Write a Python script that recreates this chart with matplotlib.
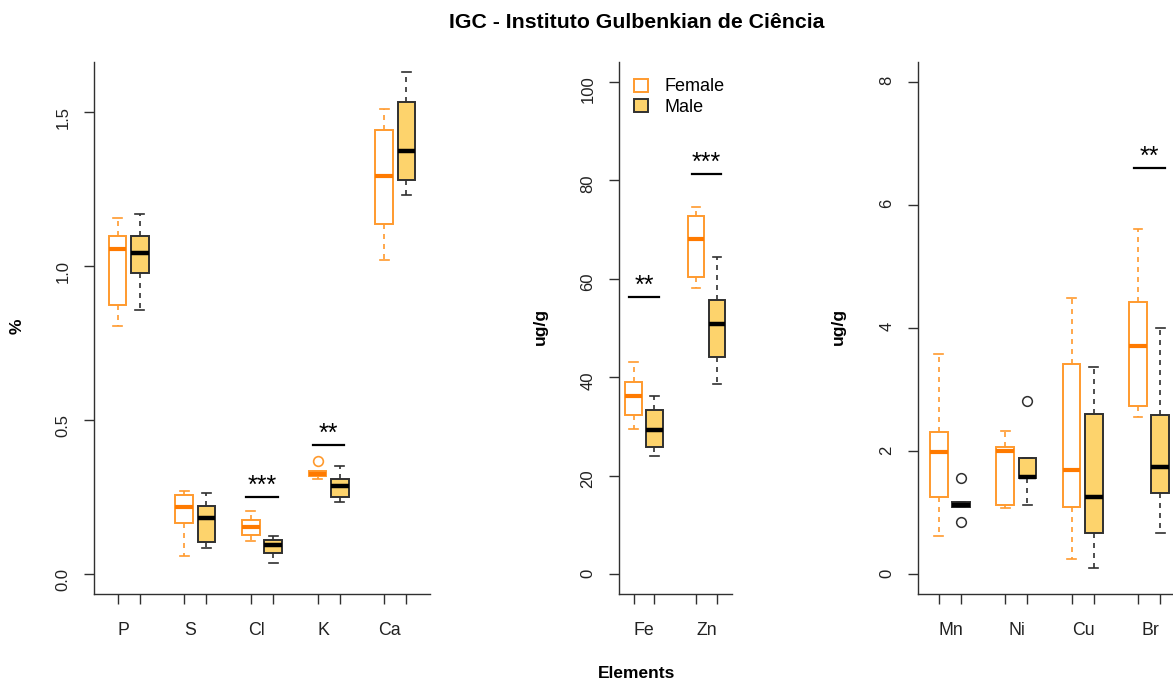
import matplotlib.pyplot as plt
from matplotlib.patches import Patch

plt.rcParams['font.family'] = ['Liberation Sans', 'DejaVu Sans']

# panel 1 - major elements (%)
el1 = ['P', 'S', 'Cl', 'K', 'Ca']
f1_lo = [0.807, 0.058, 0.108, 0.311, 1.021]
f1_q1 = [0.875, 0.165, 0.129, 0.319, 1.138]
f1_med = [1.056, 0.217, 0.154, 0.327, 1.294]
f1_q3 = [1.098, 0.258, 0.175, 0.335, 1.443]
f1_hi = [1.158, 0.270, 0.207, 0.337, 1.512]
f1_out = [[], [], [], [0.368], []]
m1_lo = [0.860, 0.084, 0.037, 0.235, 1.232]
m1_q1 = [0.980, 0.104, 0.068, 0.252, 1.281]
m1_med = [1.043, 0.184, 0.094, 0.287, 1.374]
m1_q3 = [1.098, 0.221, 0.111, 0.309, 1.533]
m1_hi = [1.170, 0.265, 0.124, 0.352, 1.630]
m1_out = [[], [], [], [], []]
sig1_idx = [2, 3]
sig1_txt = ['***', '**']
sig1_y = [0.251, 0.421]

# panel 2 - Fe, Zn (ug/g)
el2 = ['Fe', 'Zn']
f2_lo = [29.5, 58.2]
f2_q1 = [32.3, 60.4]
f2_med = [36.2, 68.0]
f2_q3 = [39.0, 72.8]
f2_hi = [43.0, 74.5]
f2_out = [[], []]
m2_lo = [24.1, 38.6]
m2_q1 = [25.8, 44.2]
m2_med = [29.2, 50.9]
m2_q3 = [33.4, 55.6]
m2_hi = [36.1, 64.5]
m2_out = [[], []]
sig2_idx = [0, 1]
sig2_txt = ['**', '***']
sig2_y = [56.3, 81.3]

# panel 3 - trace elements (ug/g)
el3 = ['Mn', 'Ni', 'Cu', 'Br']
f3_lo = [0.63, 1.08, 0.25, 2.56]
f3_q1 = [1.26, 1.12, 1.10, 2.74]
f3_med = [1.98, 2.01, 1.70, 3.70]
f3_q3 = [2.31, 2.07, 3.42, 4.43]
f3_hi = [3.58, 2.33, 4.48, 5.60]
f3_out = [[], [], [], []]
m3_lo = [1.09, 1.12, 0.11, 0.67]
m3_q1 = [1.09, 1.56, 0.67, 1.32]
m3_med = [1.13, 1.58, 1.25, 1.75]
m3_q3 = [1.18, 1.89, 2.61, 2.58]
m3_hi = [1.18, 1.89, 3.37, 4.00]
m3_out = [[1.57, 0.85], [2.81], [], []]
sig3_idx = [3]
sig3_txt = ['**']
sig3_y = [6.60]

ORANGE = '#ff9a2e'
ORANGE_MED = '#ff7a00'
GOLD = '#fdd36c'
DARK = '#303030'
TXT = '#222222'


def make_stats(lo, q1, med, q3, hi, out):
    return [dict(whislo=a, q1=b, med=c, q3=d, whishi=e, fliers=o)
            for a, b, c, d, e, o in zip(lo, q1, med, q3, hi, out)]


def draw_panel(ax, names, fem, mal, ymax, yticks, ylabels, sig_idx, sig_txt, sig_y, lab_off):
    n = len(names)
    pos_f = [1 + 3 * i for i in range(n)]
    pos_m = [2 + 3 * i for i in range(n)]
    ax.bxp(fem, positions=pos_f, widths=0.8, patch_artist=True, capwidths=0.4,
           manage_ticks=False,
           boxprops=dict(facecolor='white', edgecolor=ORANGE, linewidth=1.4),
           whiskerprops=dict(color=ORANGE, linestyle=(0, (3, 3)), linewidth=1.2),
           capprops=dict(color=ORANGE, linewidth=1.2),
           medianprops=dict(color=ORANGE_MED, linewidth=3),
           flierprops=dict(marker='o', markerfacecolor='none', markeredgecolor=ORANGE,
                           markersize=7, markeredgewidth=1.2))
    ax.bxp(mal, positions=pos_m, widths=0.8, patch_artist=True, capwidths=0.4,
           manage_ticks=False,
           boxprops=dict(facecolor=GOLD, edgecolor=DARK, linewidth=1.4),
           whiskerprops=dict(color=DARK, linestyle=(0, (3, 3)), linewidth=1.2),
           capprops=dict(color=DARK, linewidth=1.2),
           medianprops=dict(color='black', linewidth=3.2),
           flierprops=dict(marker='o', markerfacecolor='none', markeredgecolor=DARK,
                           markersize=7, markeredgewidth=1.1))
    # significance bars
    for i, t, y in zip(sig_idx, sig_txt, sig_y):
        c = 1.5 + 3 * i
        ax.plot([c - 0.7, c + 0.7], [y, y], color='black', lw=1.6)
        ax.annotate(t, (c, y), xytext=(0, 3), textcoords='offset points',
                    ha='center', va='baseline', fontsize=18)
    xr = 3 * n - 1
    ax.set_xlim(0.5 - 0.04 * xr, 3 * n - 0.5 + 0.04 * xr)
    ax.set_ylim(-0.04 * ymax, ymax * 1.04)
    ax.set_yticks(yticks)
    ax.set_yticklabels(ylabels)
    ax.set_xticks(sorted(pos_f + pos_m))
    ax.set_xticklabels([])
    ax.set_xticks([p + lab_off for p in pos_f], minor=True)
    ax.set_xticklabels(names, minor=True)
    ax.tick_params(axis='x', which='major', length=7, width=1, color=DARK)
    ax.tick_params(axis='x', which='minor', length=0, pad=20, labelsize=12.8,
                   labelcolor=TXT)
    ax.tick_params(axis='y', length=7, width=1, color=DARK, labelsize=12,
                   labelrotation=90, pad=10, labelcolor=TXT)
    for s in ['top', 'right']:
        ax.spines[s].set_visible(False)
    for s in ['left', 'bottom']:
        ax.spines[s].set_color(DARK)
        ax.spines[s].set_linewidth(1)


fig = plt.figure(figsize=(11.73, 6.82), dpi=100)
W, H = 1173, 682
bot = (H - 594) / H
hgt = (594 - 62) / H
ax1 = fig.add_axes([94 / W, bot, 336 / W, hgt])
ax2 = fig.add_axes([619 / W, bot, 112.5 / W, hgt])
ax3 = fig.add_axes([918 / W, bot, 263 / W, hgt])

draw_panel(ax1, el1,
           make_stats(f1_lo, f1_q1, f1_med, f1_q3, f1_hi, f1_out),
           make_stats(m1_lo, m1_q1, m1_med, m1_q3, m1_hi, m1_out),
           1.6, [0, 0.5, 1.0, 1.5], ['0.0', '0.5', '1.0', '1.5'],
           sig1_idx, sig1_txt, sig1_y, 0.25)
draw_panel(ax2, el2,
           make_stats(f2_lo, f2_q1, f2_med, f2_q3, f2_hi, f2_out),
           make_stats(m2_lo, m2_q1, m2_med, m2_q3, m2_hi, m2_out),
           100, [0, 20, 40, 60, 80, 100], ['0', '20', '40', '60', '80', '100'],
           sig2_idx, sig2_txt, sig2_y, 0.5)
draw_panel(ax3, el3,
           make_stats(f3_lo, f3_q1, f3_med, f3_q3, f3_hi, f3_out),
           make_stats(m3_lo, m3_q1, m3_med, m3_q3, m3_hi, m3_out),
           8, [0, 2, 4, 6, 8], ['0', '2', '4', '6', '8'],
           sig3_idx, sig3_txt, sig3_y, 0.55)

# legend
handles = [Patch(facecolor='white', edgecolor=ORANGE, linewidth=1.4, label='Female'),
           Patch(facecolor=GOLD, edgecolor=DARK, linewidth=1.4, label='Male')]
ax2.legend(handles=handles, loc='upper left', bbox_to_anchor=(0.136, 0.969),
           frameon=False, fontsize=13, handlelength=0.75, handleheight=0.75,
           handletextpad=0.9, labelspacing=0.18, borderaxespad=0, borderpad=0)

fig.text(637 / W, 1 - 22 / H, 'IGC - Instituto Gulbenkian de Ciência',
         ha='center', va='center', fontsize=15.3, fontweight='bold')
fig.text(637 / W, 1 - 674 / H, 'Elements', ha='center', va='center',
         fontsize=12.5, fontweight='bold')
fig.text(17 / W, 1 - 326 / H, '%', ha='center', va='center', rotation=90,
         fontsize=12.5, fontweight='bold')
fig.text(540 / W, 1 - 326 / H, 'ug/g', ha='center', va='center', rotation=90,
         fontsize=12.5, fontweight='bold')
fig.text(838 / W, 1 - 326 / H, 'ug/g', ha='center', va='center', rotation=90,
         fontsize=12.5, fontweight='bold')

fig.savefig('out.png', dpi=100)
